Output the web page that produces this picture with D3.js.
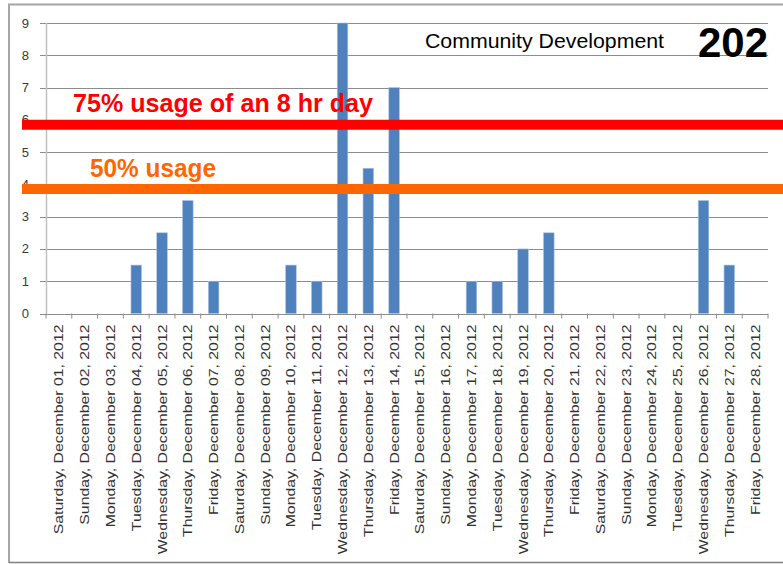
<!DOCTYPE html>
<html><head><meta charset="utf-8">
<script src="https://cdn.jsdelivr.net/npm/d3@7"></script>
<style>body{margin:0;background:#fff}svg{display:block}</style>
</head><body><svg id="c" width="783" height="564"></svg>
<script>
const categories = ["Saturday, December 01, 2012","Sunday, December 02, 2012","Monday, December 03, 2012","Tuesday, December 04, 2012","Wednesday, December 05, 2012","Thursday, December 06, 2012","Friday, December 07, 2012","Saturday, December 08, 2012","Sunday, December 09, 2012","Monday, December 10, 2012","Tuesday, December 11, 2012","Wednesday, December 12, 2012","Thursday, December 13, 2012","Friday, December 14, 2012","Saturday, December 15, 2012","Sunday, December 16, 2012","Monday, December 17, 2012","Tuesday, December 18, 2012","Wednesday, December 19, 2012","Thursday, December 20, 2012","Friday, December 21, 2012","Saturday, December 22, 2012","Sunday, December 23, 2012","Monday, December 24, 2012","Tuesday, December 25, 2012","Wednesday, December 26, 2012","Thursday, December 27, 2012","Friday, December 28, 2012"];
const hours = [0,0,0,1.5,2.5,3.5,1,0,0,1.5,1,9,4.5,7,0,0,1,1,2,2.5,0,0,0,0,0,3.5,1.5,0];
const yTicks = [0,1,2,3,4,5,6,7,8,9];
const refLabels = ["75% usage of an 8 hr day","50% usage"];
const refValues = [5.85, 3.86];
const title = "Community Development";
const roomNumber = "202";

const svg = d3.select("#c");
const pL = 46, pR = 768, pT = 23, pB = 313.5;
const x = d3.scaleBand().domain(categories).range([pL, pR]).padding(0);
const y = d3.scaleLinear().domain([0, 9]).range([pB, pT]);

// frame
svg.append("path").attr("d","M9,563 L9,4.5 L783,4.5").attr("fill","none").attr("stroke","#a6a6a6").attr("stroke-width",2);
svg.append("line").attr("x1",9).attr("x2",783).attr("y1",562.5).attr("y2",562.5).attr("stroke","#808080").attr("stroke-width",1.5);

// gridlines
svg.append("g").selectAll("line").data(yTicks.filter(d=>d>0)).join("line")
  .attr("x1",40).attr("x2",pR).attr("y1",d=>Math.round(y(d))+0.5).attr("y2",d=>Math.round(y(d))+0.5)
  .attr("stroke","#8c8c8c").attr("stroke-width",1);
// y axis line
svg.append("line").attr("x1",pL+0.5).attr("x2",pL+0.5).attr("y1",pT).attr("y2",pB).attr("stroke","#c0c0c0").attr("stroke-width",1.5);
// y tick labels
svg.append("g").selectAll("text").data(yTicks).join("text")
  .attr("x",29).attr("y",d=>y(d)+4.5).attr("text-anchor","end")
  .attr("font-family","Liberation Sans, Arial, sans-serif").attr("font-size",13).attr("fill","#3a3a3a").text(d=>d);

// bars
const bw = x.bandwidth()*0.41;
svg.append("g").selectAll("rect").data(categories.map((c,i)=>({c,v:hours[i]})).filter(d=>d.v>0)).join("rect")
  .attr("x",d=>x(d.c)+x.bandwidth()/2-bw/2).attr("width",bw)
  .attr("y",d=>y(d.v)).attr("height",d=>y(0)-y(d.v))
  .attr("fill","#4f81bd").attr("stroke","#a9c3e3").attr("stroke-width",0.6);

// x axis line and ticks
svg.append("line").attr("x1",40).attr("x2",pR).attr("y1",Math.round(pB)+0.5).attr("y2",Math.round(pB)+0.5).attr("stroke","#8c8c8c");
const bounds = categories.map(c=>x(c)).concat([pR]);
svg.append("g").selectAll("line").data(bounds).join("line")
  .attr("x1",d=>d).attr("x2",d=>d).attr("y1",pB).attr("y2",pB+5).attr("stroke","#8c8c8c");

// x labels
const xl = svg.append("g").selectAll("text").data(categories).join("text")
  .attr("text-anchor","end")
  .attr("font-family","Liberation Sans, Arial, sans-serif").attr("font-size",12.5).attr("fill","#333")
  .text(d=>d);
let maxW = 0; xl.each(function(){maxW=Math.max(maxW,this.getComputedTextLength());});
const sx = 230/maxW;
xl.attr("transform",d=>`translate(${x(d)+x.bandwidth()/2+4.5},${pB+11}) rotate(-90) scale(${sx},1)`);

// reference lines
const refColors = ["#ff0000","#ff6600"];
svg.append("g").selectAll("line").data(refValues).join("line")
  .attr("x1",22).attr("x2",783).attr("y1",d=>y(d)).attr("y2",d=>y(d))
  .attr("stroke",(d,i)=>refColors[i]).attr("stroke-width",10);
const refX = [73, 90], refW = [300, 126], refDy = [-13, -12];
svg.append("g").selectAll("text").data(refLabels).join("text")
  .attr("x",(d,i)=>refX[i]).attr("y",(d,i)=>y(refValues[i])+refDy[i])
  .attr("font-family","Liberation Sans, Arial, sans-serif").attr("font-weight","bold").attr("font-size",25)
  .attr("textLength",(d,i)=>refW[i]).attr("lengthAdjust","spacingAndGlyphs")
  .attr("fill",(d,i)=>refColors[i]).text(d=>d);

// title and number
svg.append("text").attr("x",425).attr("y",48).attr("font-family","Liberation Sans, Arial, sans-serif")
  .attr("font-size",20).attr("textLength",239).attr("lengthAdjust","spacingAndGlyphs").attr("fill","#000").text(title);
svg.append("text").attr("x",698).attr("y",57).attr("font-family","Liberation Sans, Arial, sans-serif")
  .attr("font-weight","bold").attr("font-size",42).attr("textLength",70).attr("lengthAdjust","spacingAndGlyphs").attr("fill","#000").text(roomNumber);
</script></body></html>
